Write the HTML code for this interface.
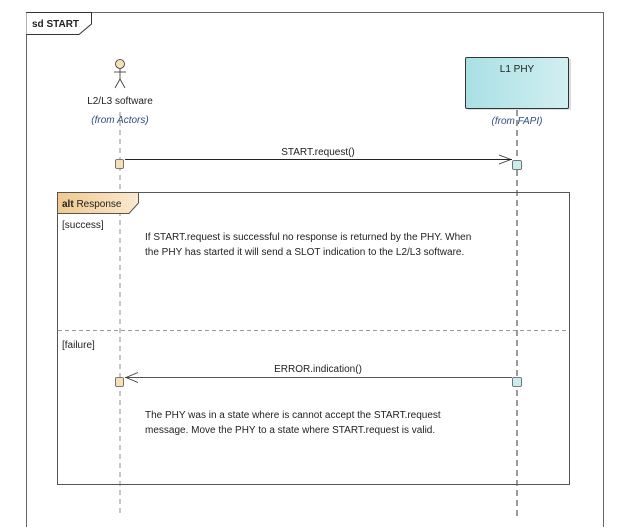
<!DOCTYPE html>
<html><head><meta charset="utf-8"><style>
body{margin:0;width:637px;height:527px;background:#fff;overflow:hidden;font-family:"Liberation Sans",sans-serif}
svg text{font-family:"Liberation Sans",sans-serif;font-size:10px;fill:#222}
</style></head><body>
<svg width="637" height="527" viewBox="0 0 637 527" xmlns="http://www.w3.org/2000/svg">
<defs>
<linearGradient id="phy" x1="0" x2="1"><stop offset="0" stop-color="#a9e0e4"/><stop offset="1" stop-color="#d2eff1"/></linearGradient>
<linearGradient id="alt" x1="0" x2="1"><stop offset="0" stop-color="#f0c98e"/><stop offset="1" stop-color="#fbe9cf"/></linearGradient>
</defs>
<!-- frame -->
<path d="M26.5 527 V12.5 H603.5 V527" fill="none" stroke="#666" stroke-width="1"/>
<path d="M26.5 12.5 H91.5 V24 L79 34.5 H26.5" fill="#fff" stroke="#333"/>
<text x="32" y="27" font-weight="bold" font-size="10.5">sd START</text>
<!-- actor -->
<circle cx="120" cy="64" r="4.5" fill="#f7dfb8" stroke="#333" stroke-width="0.8"/>
<line x1="120" y1="68.5" x2="120" y2="79" stroke="#333" stroke-width="0.8"/>
<line x1="114" y1="72" x2="126" y2="72" stroke="#333" stroke-width="0.8"/>
<path d="M115 88 L120 79 L125 88" fill="none" stroke="#333" stroke-width="0.8"/>
<text x="120" y="104" text-anchor="middle">L2/L3 software</text>
<text x="120" y="123" text-anchor="middle" font-style="italic" fill="#2a4d80" style="fill:#2a4d80">(from Actors)</text>
<!-- phy -->
<rect x="468" y="59" width="103" height="51" fill="#ddd"/>
<rect x="465.5" y="57.5" width="103" height="51" rx="1.5" fill="url(#phy)" stroke="#333"/>
<text x="517" y="72" text-anchor="middle">L1 PHY</text>
<text x="517" y="124" text-anchor="middle" font-style="italic" style="fill:#2a4d80">(from FAPI)</text>
<!-- lifelines -->
<line x1="120" y1="112" x2="120" y2="517" stroke="#777" stroke-dasharray="5,4" stroke-width="0.8"/>
<line x1="517" y1="110" x2="517" y2="517" stroke="#222" stroke-dasharray="6,4" stroke-width="0.9"/>
<!-- start request -->
<line x1="125" y1="159.5" x2="512" y2="159.5" stroke="#222"/>
<path d="M499 155 L511 159.5 L499 164" fill="none" stroke="#222" stroke-width="0.8"/>
<text x="318" y="155" text-anchor="middle">START.request()</text>
<rect x="115.5" y="159.5" width="8" height="9" rx="1.5" fill="#f7dfb8" stroke="#555" stroke-width="0.8"/>
<rect x="512.5" y="160.5" width="9" height="9" rx="1.5" fill="#c9ecee" stroke="#555" stroke-width="0.8"/>
<!-- alt -->
<rect x="57.5" y="192.5" width="512" height="292" fill="none" stroke="#555"/>
<path d="M57.5 192.5 H138.5 V203 L129 213.5 H57.5 Z" fill="url(#alt)" stroke="#555"/>
<text x="62" y="207" font-size="10.5"><tspan font-weight="bold">alt</tspan> Response</text>
<text x="62" y="228">[success]</text>
<text x="145" y="240">If START.request is successful no response is returned by the PHY. When</text>
<text x="145" y="255">the PHY has started it will send a SLOT indication to the L2/L3 software.</text>
<line x1="58" y1="330.5" x2="569" y2="330.5" stroke="#777" stroke-dasharray="4,3" stroke-width="0.8"/>
<text x="62" y="348">[failure]</text>
<line x1="125" y1="377.5" x2="512" y2="377.5" stroke="#555"/>
<path d="M138 372.5 L126 377.5 L138 382.5" fill="none" stroke="#333" stroke-width="0.8"/>
<text x="318" y="372" text-anchor="middle">ERROR.indication()</text>
<rect x="115.5" y="377.5" width="8" height="9" rx="1.5" fill="#f7dfb8" stroke="#555" stroke-width="0.8"/>
<rect x="512.5" y="377.5" width="9" height="9" rx="1.5" fill="#c9ecee" stroke="#555" stroke-width="0.8"/>
<text x="145" y="418">The PHY was in a state where is cannot accept the START.request</text>
<text x="145" y="433">message. Move the PHY to a state where START.request is valid.</text>
</svg>
</body></html>
